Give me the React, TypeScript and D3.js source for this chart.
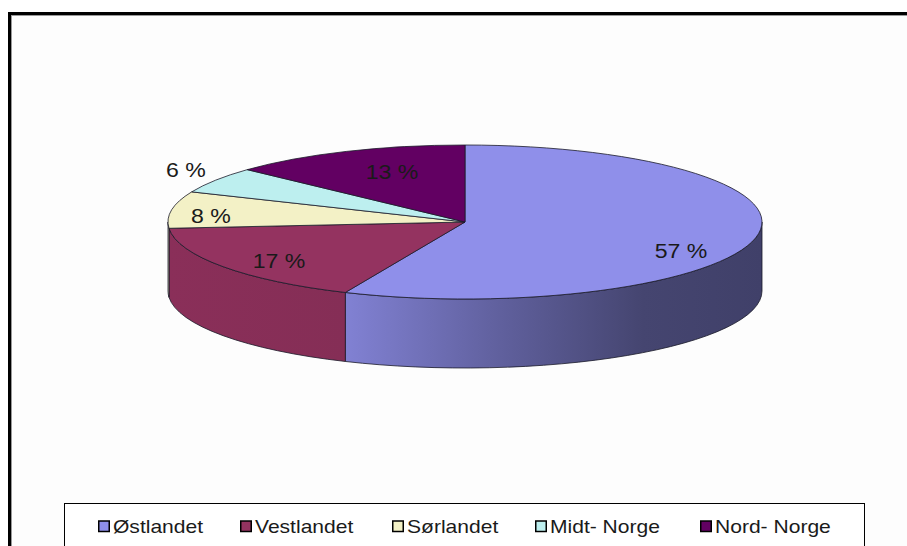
import React from "react";
import * as d3 from "d3";

const categories = ["Østlandet", "Vestlandet", "Sørlandet", "Midt- Norge", "Nord- Norge"];
const values = [56.6, 17.1, 7.7, 5.5, 13.1];
const labels = ["57 %", "17 %", "8 %", "6 %", "13 %"];
const colors = ["#8F8FEA", "#943360", "#F3F1C6", "#BDEFEF", "#620062"];

const W = 907;
const H = 546;
const cx = 465;
const cy = 222;
const rx = 297;
const ry = 77;
const depth = 69;

const labelPos: [number, number][] = [
  [681, 258],
  [279, 268],
  [211, 223],
  [186, 177],
  [392, 179],
];
const legendX = [98, 240, 392, 535, 700];

function pt(a: number, dy = 0): [number, number] {
  return [cx + rx * Math.sin(a), cy - ry * Math.cos(a) + dy];
}

export default function App() {
  const pie = d3.pie<number>().sort(null).value((d) => d).startAngle(0).endAngle(2 * Math.PI);
  const arcs = pie(values);

  const shadeStops = [
    [0, 0.93],
    [0.3, 0.9],
    [0.55, 0.68],
    [0.8, 0.48],
    [1, 0.45],
  ];

  const sides = arcs
    .map((d, i) => {
      const s = Math.max(d.startAngle, Math.PI / 2);
      const e = Math.min(d.endAngle, (3 * Math.PI) / 2);
      if (e <= s) return null;
      const p0 = pt(s);
      const p1 = pt(e);
      const p2 = pt(e, depth);
      const p3 = pt(s, depth);
      const path = `M${p0[0]},${p0[1]} A${rx},${ry} 0 0 1 ${p1[0]},${p1[1]} L${p2[0]},${p2[1]} A${rx},${ry} 0 0 0 ${p3[0]},${p3[1]} Z`;
      return { path, i };
    })
    .filter(Boolean) as { path: string; i: number }[];

  const tops = arcs.map((d, i) => {
    const p0 = pt(d.startAngle);
    const p1 = pt(d.endAngle);
    const large = d.endAngle - d.startAngle > Math.PI ? 1 : 0;
    return {
      path: `M${cx},${cy} L${p0[0]},${p0[1]} A${rx},${ry} 0 ${large} 1 ${p1[0]},${p1[1]} Z`,
      i,
    };
  });

  return (
    <svg
      width={W}
      height={H}
      style={{ position: "fixed", left: 0, top: 0, background: "#fff" }}
      fontFamily="'Liberation Sans', Arial, sans-serif"
    >
      <defs>
        {colors.map((c, i) => (
          <linearGradient
            key={i}
            id={`side${i}`}
            gradientUnits="userSpaceOnUse"
            x1={cx - rx}
            x2={cx + rx}
            y1={0}
            y2={0}
          >
            {shadeStops.map(([o, f], j) => (
              <stop key={j} offset={o} stopColor={d3.interpolateRgb("#000", c)(f)} />
            ))}
          </linearGradient>
        ))}
      </defs>
      <rect x={0} y={0} width={W} height={H} fill="#fff" />
      <rect x={11} y={15} width={W} height={H} fill="#fdfdfd" />
      <line x1={11.5} y1={15} x2={11.5} y2={H} stroke="#999" strokeWidth={1} />
      <line x1={11} y1={15.5} x2={W} y2={15.5} stroke="#999" strokeWidth={1} />
      <line x1={9.5} y1={12} x2={9.5} y2={H} stroke="#000" strokeWidth={3} />
      <line x1={8} y1={13.5} x2={W} y2={13.5} stroke="#000" strokeWidth={3} />

      {sides.map((s) => (
        <path key={`s${s.i}`} d={s.path} fill={`url(#side${s.i})`} stroke="#1a1a2a" strokeWidth={0.8} />
      ))}
      {tops.map((t) => (
        <path key={`t${t.i}`} d={t.path} fill={colors[t.i]} stroke="#1a1a2a" strokeWidth={0.8} />
      ))}

      {labels.map((l, i) => (
        <text
          key={`l${i}`}
          transform={`translate(${labelPos[i][0]},${labelPos[i][1]}) scale(1.1,1)`}
          textAnchor="middle"
          fontSize={21}
          fill="#1a1a1a"
        >
          {l}
        </text>
      ))}

      <rect x={64.5} y={503.5} width={800} height={80} fill="#fff" stroke="#000" strokeWidth={1} />
      {categories.map((c, i) => (
        <g key={`g${i}`}>
          <rect
            x={legendX[i] + 0.75}
            y={521}
            width={10.5}
            height={10.5}
            fill={colors[i]}
            stroke="#000"
            strokeWidth={1.5}
          />
          <text
            transform={`translate(${legendX[i] + 15},${533}) scale(1.17,1)`}
            fontSize={18}
            fill="#1a1a1a"
          >
            {c}
          </text>
        </g>
      ))}
    </svg>
  );
}
